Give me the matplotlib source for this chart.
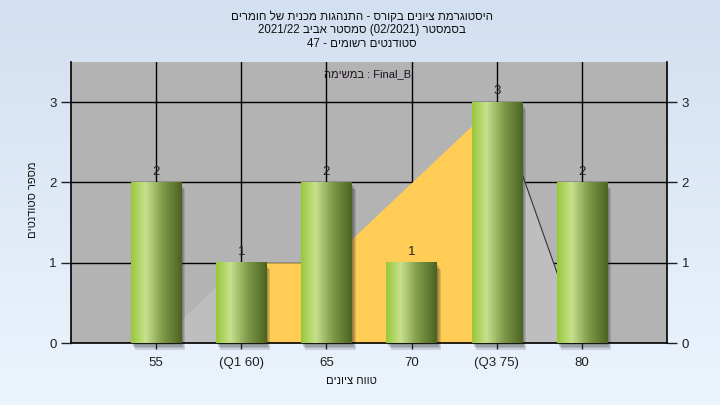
import numpy as np
import matplotlib
matplotlib.use("Agg")
import matplotlib.pyplot as plt
from matplotlib.colors import LinearSegmentedColormap
from matplotlib.patches import Rectangle

plt.rcParams['font.family'] = ['Liberation Sans', 'DejaVu Sans']

# data
grades = [55, 60, 65, 70, 75, 80]
tick_labels = ['55', '(Q1 60)', '65', '70', '(Q3 75)', '80']
counts = [2, 1, 2, 1, 3, 2]
curve = [0, 1, 1, 2, 3, 0]      # area series behind the bars
q1, q3 = 60, 75

title_lines = ['היסטוגרמת ציונים בקורס - התנהגות מכנית של חומרים',
               'בסמסטר (02/2021) סמסטר אביב 2021/22',
               'סטודנטים רשומים - 47']
task_label = 'Final_B : במשימה'
xlabel = 'טווח ציונים'
ylabel = 'מספר סטודנטים'


def is_heb(tok):
    return any('\u0590' <= c <= '\u05ff' for c in tok)


def rtl(s):
    # simple visual ordering for a right-to-left line
    toks = s.split(' ')
    toks = [t[::-1] if is_heb(t) else t for t in toks]
    return ' '.join(toks[::-1])


fig = plt.figure(figsize=(7.2, 4.05), dpi=100)

# figure background gradient
bg = fig.add_axes([0, 0, 1, 1])
g = np.linspace(0, 1, 100).reshape(-1, 1)
bg_cmap = LinearSegmentedColormap.from_list('bg', ['#d3e0f1', '#ecf4fd'])
bg.imshow(g, cmap=bg_cmap, aspect='auto', extent=[0, 1, 0, 1])
bg.axis('off')

ax = fig.add_axes([71 / 720, 1 - 343 / 405, 596 / 720, 281 / 405])
ax.set_facecolor('#b3b3b3')
ax.set_axisbelow(True)
ax.grid(True, color='black', linewidth=1.0)

# area series: yellow between Q1 and Q3, grey outside
xs = np.array(grades)
ys = np.array(curve)
inside = (xs >= q1) & (xs <= q3)
ax.fill_between(xs[inside], ys[inside], color='#ffcc55', linewidth=0, zorder=2)
left = xs <= q1
right = xs >= q3
ax.fill_between(xs[left], ys[left], color='#bebebe', linewidth=0, zorder=2)
ax.fill_between(xs[right], ys[right], color='#bebebe', linewidth=0, zorder=2)
ax.plot(xs[right], ys[right], color='#333333', linewidth=0.8, zorder=2.2)

# gradient bars with soft shadow
bar_w = 2.95
bar_cmap = LinearSegmentedColormap.from_list(
    'bar', [(0, '#98c93a'), (0.28, '#c7e18d'), (0.62, '#809b4b'), (1, '#4b6521')])
grad = np.linspace(0, 1, 64).reshape(1, -1)
for x, h in zip(grades, counts):
    for i in range(4):
        ax.add_patch(Rectangle((x - bar_w / 2 + 0.06 + i * 0.06, -0.03 - i * 0.017), bar_w, h,
                               facecolor='#303030', alpha=0.16, linewidth=0,
                               zorder=2.5, clip_on=False))
    ax.imshow(grad, cmap=bar_cmap, extent=[x - bar_w / 2, x + bar_w / 2, 0, h],
              aspect='auto', interpolation='bilinear', zorder=3)
    ax.text(x, h + 0.06, str(h), ha='center', va='bottom', fontsize=9.5,
            color='#222222', zorder=4)

ax.set_xlim(50, 85)
ax.set_ylim(0, 3.5)
ax.set_xticks(grades)
ax.set_xticklabels(tick_labels)
ax.set_yticks([0, 1, 2, 3])
ax.tick_params(axis='y', which='both', left=True, right=True, labelleft=True,
               labelright=True, length=7, width=1, labelsize=9.5, colors='#202020')
ax.tick_params(axis='x', length=4, width=1, labelsize=9.5, colors='#202020', pad=6)
ax.spines['top'].set_visible(False)
for s in ['left', 'right', 'bottom']:
    ax.spines[s].set_color('black')
    ax.spines[s].set_linewidth(1.2)

ax.text(0.498, 0.957, rtl(task_label), transform=ax.transAxes, ha='center',
        va='center', fontsize=8, color='#1a1020', zorder=5)

for i, line in enumerate(title_lines):
    fig.text(0.503, 1 - (17 + i * 13.5) / 405, rtl(line), ha='center', va='center',
             fontsize=8.3, color='#101010')

fig.text(351 / 720, 1 - 381 / 405, rtl(xlabel), ha='center', va='center',
         fontsize=8, color='#101010')
fig.text(33 / 720, 1 - 200 / 405, rtl(ylabel), ha='center', va='center',
         rotation=90, fontsize=8, color='#101010')

fig.savefig('out.png', dpi=100)
